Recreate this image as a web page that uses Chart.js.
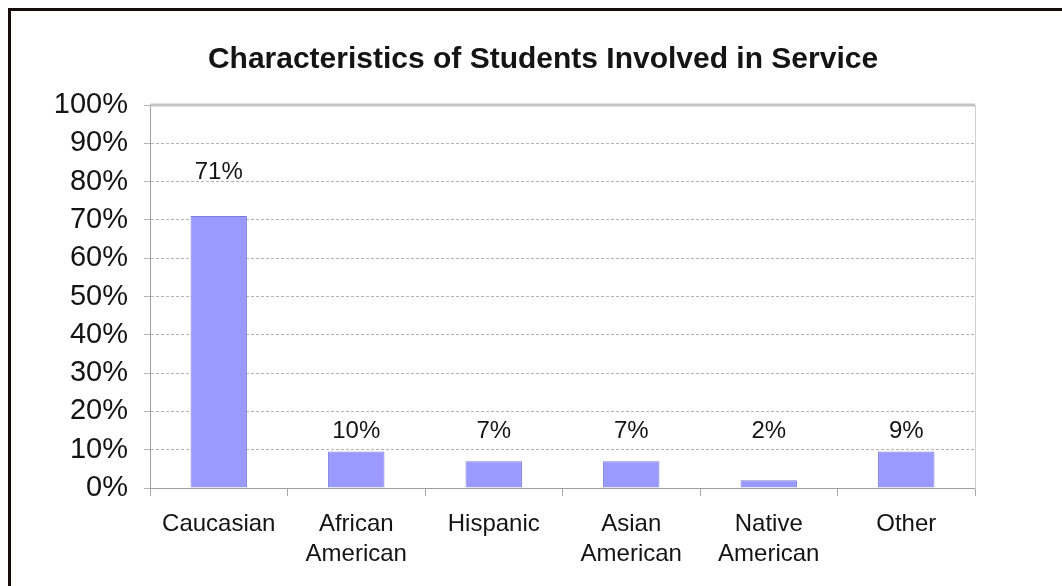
<!DOCTYPE html>
<html>
<head>
<meta charset="utf-8">
<script src="https://cdn.jsdelivr.net/npm/chart.js@4/dist/chart.umd.min.js"></script>
<style>
  body { margin: 8px 0 0 8px; overflow: hidden; background: #fff; }
  #wrap {
    position: relative;
    width: 1051px;
    height: 575px;
    border-top: 3px solid #160c0c;
    border-left: 3px solid #160c0c;
  }
</style>
</head>
<body>
<div id="wrap"><canvas id="myChart"></canvas></div>
<script>
// data
var categories = [['Caucasian'], ['African', 'American'], ['Hispanic'], ['Asian', 'American'], ['Native', 'American'], ['Other']];
var shares = [71, 9.5, 7, 7, 2, 9.5];
var shareLabels = ['71%', '10%', '7%', '7%', '2%', '9%'];
var yTicks = [0, 10, 20, 30, 40, 50, 60, 70, 80, 90, 100];

var FONT = "'Liberation Sans', Arial, sans-serif";
var TEXT = '#141414';

/*~~~~~~~~~~ plot frame + data labels ~~~~~~~~~~*/
var frameAndLabels = {
  id: 'frameAndLabels',
  afterDraw: function (chart) {
    var c = chart.ctx, a = chart.chartArea, y = chart.scales.y;
    c.save();
    // thick top edge of the plot area
    c.strokeStyle = '#c4c4c4';
    c.lineWidth = 3;
    c.beginPath();
    c.moveTo(a.left, a.top);
    c.lineTo(a.right, a.top);
    c.stroke();

    // value labels above bars
    c.font = '24px ' + FONT;
    c.fillStyle = TEXT;
    c.textAlign = 'center';
    c.textBaseline = 'middle';
    var meta = chart.getDatasetMeta(0);
    meta.data.forEach(function (bar, i) {
      var ly;
      if (shares[i] > 20) ly = bar.y - 44;    // tall bar: label well above top
      else ly = y.getPixelForValue(14.7);     // short bars: labels sit on one row
      c.fillText(shareLabels[i], bar.x, ly);
    });
    c.restore();
  }
};

var ctx = document.getElementById('myChart').getContext('2d');
var myChart = new Chart(ctx, {
  type: 'bar',
  data: {
    labels: categories,
    datasets: [{
      label: 'Students',
      data: shares,
      backgroundColor: '#9999ff',
      borderColor: '#7a7ae0',
      borderWidth: 1,
      categoryPercentage: 1,
      barPercentage: 0.41
    }]
  },
  options: {
    responsive: true,
    maintainAspectRatio: false,
    animation: false,
    layout: { padding: { left: 13, right: 0, top: 0, bottom: 0 } },
    plugins: {
      legend: { display: false },
      tooltip: { enabled: false },
      title: {
        display: true,
        text: 'Characteristics of Students Involved in Service',
        color: TEXT,
        font: { family: FONT, size: 30, weight: 'bold' },
        padding: { top: 31, bottom: 27 }
      }
    },
    scales: {
      x: {
        grid: { offset: true, drawOnChartArea: false, color: '#a8a8a8', tickLength: 8 },
        border: { display: true, color: '#a0a0a0' },
        ticks: { color: TEXT, font: { family: FONT, size: 24, lineHeight: 1.25 }, padding: 13, maxRotation: 0 },
        afterFit: function (s) { s.height = 98; }
      },
      y: {
        min: 0,
        max: 100,
        afterBuildTicks: function (s) { s.ticks = yTicks.map(function (v) { return { value: v }; }); },
        grid: { color: '#b4b4b4', tickLength: 6 },
        border: { display: true, color: '#a0a0a0', dash: [3, 2] },
        ticks: {
          color: TEXT,
          font: { family: FONT, size: 29 },
          padding: 16,
          callback: function (v) { return v + '%'; }
        },
        afterFit: function (s) { s.width = 126; }
      },
      yR: {
        position: 'right',
        min: 0,
        max: 100,
        grid: { display: false, drawTicks: false },
        border: { display: true, color: '#d0d0d0', dash: [2, 2] },
        ticks: { display: false },
        afterFit: function (s) { s.width = 87; }
      }
    }
  },
  plugins: [frameAndLabels]
});
</script>
</body>
</html>
